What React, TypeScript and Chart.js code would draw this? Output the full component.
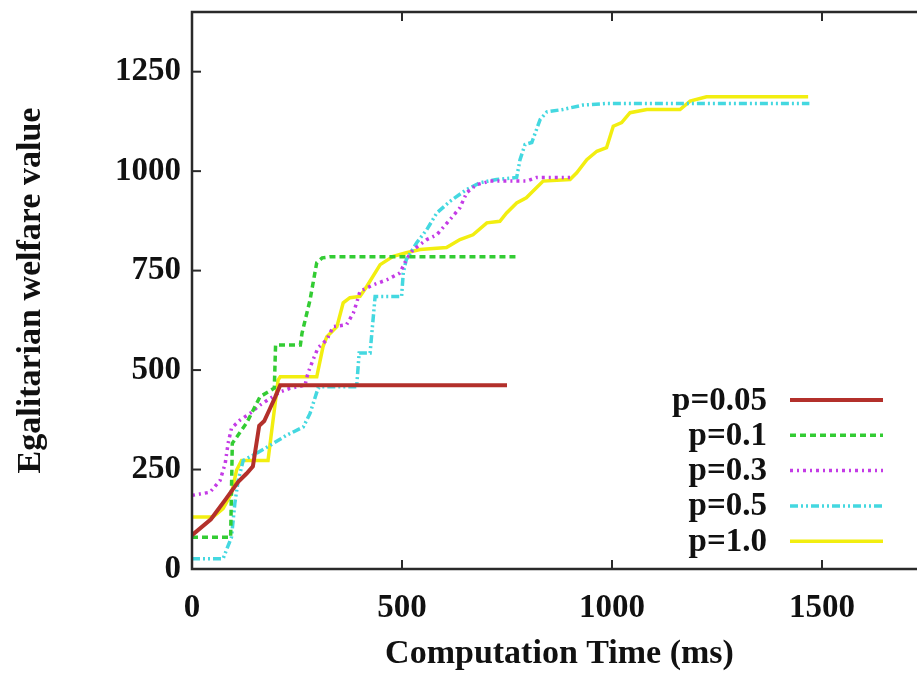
import React, { useEffect, useRef } from 'react';
import { Chart, registerables } from 'chart.js';

Chart.register(...registerables);

const FONT = "'Liberation Serif', 'Times New Roman', serif";
const FONT_SIZE = 33;
const TITLE_SIZE = 34;
const VIEW_W = 945;
const VIEW_H = 675;

const seriesLabels = ['p=0.05', 'p=0.1', 'p=0.3', 'p=0.5', 'p=1.0'];
const seriesColors = ['#b3302b', '#33cc33', '#c43be6', '#44d8e0', '#f2ee10'];
const seriesDashes: number[][] = [[], [6, 4], [3, 4, 2, 4], [8, 3, 2, 3, 2, 3], []];
const seriesWidths = [4, 3.5, 3.5, 3.5, 3.5];

const p005X = [0, 45, 80, 110, 130, 145, 160, 172, 186, 198, 210, 750];
const p005Y = [85, 125, 175, 219, 240, 258, 360, 372, 404, 432, 462, 462];

const p01X = [0, 92, 96, 130, 162, 186, 196, 199, 258, 262, 281, 297, 310, 330, 775];
const p01Y = [80, 80, 316, 367, 433, 448, 455, 563, 563, 593, 676, 770, 782, 785, 785];

const p03X = [0, 43, 67, 79, 86, 94, 114, 138, 162, 186, 210, 233, 269, 276, 288, 300, 321, 336, 368, 384, 392, 400, 431, 464, 495, 510, 526, 559, 583, 614, 638, 654, 678, 710, 796, 820, 900];
const p03Y = [185, 193, 223, 265, 316, 354, 374, 391, 412, 429, 445, 454, 462, 492, 525, 556, 576, 609, 614, 643, 669, 698, 714, 727, 744, 777, 802, 828, 840, 878, 908, 946, 966, 975, 975, 984, 984];

const p05X = [0, 74, 94, 102, 110, 122, 154, 186, 225, 265, 281, 300, 305, 392, 398, 424, 436, 499, 503, 510, 535, 559, 583, 614, 654, 686, 725, 773, 781, 793, 809, 829, 845, 883, 931, 987, 1470];
const p05Y = [26, 26, 80, 165, 223, 273, 291, 311, 336, 357, 391, 454, 458, 458, 543, 543, 685, 685, 744, 777, 820, 853, 895, 924, 954, 971, 979, 984, 1029, 1067, 1072, 1130, 1149, 1155, 1166, 1170, 1170];

const p10X = [0, 50, 74, 94, 106, 118, 181, 190, 205, 210, 297, 312, 321, 345, 360, 376, 400, 416, 448, 479, 510, 543, 606, 638, 669, 702, 733, 749, 773, 796, 820, 836, 900, 916, 940, 964, 987, 1003, 1023, 1043, 1083, 1162, 1186, 1225, 1467];
const p10Y = [131, 131, 152, 190, 248, 273, 273, 349, 475, 483, 483, 559, 584, 609, 669, 682, 685, 710, 765, 786, 795, 803, 808, 828, 840, 870, 874, 895, 920, 933, 958, 975, 979, 996, 1029, 1050, 1059, 1113, 1122, 1147, 1155, 1155, 1176, 1187, 1187];

const seriesX = [p005X, p01X, p03X, p05X, p10X];
const seriesY = [p005Y, p01Y, p03Y, p05Y, p10Y];

const xTickValues = [0, 500, 1000, 1500];
const yTickValues = [0, 250, 500, 750, 1000, 1250];
const xMax = 1750;
const yMax = 1400;

const framePlugin = {
  id: 'gnuFrame',
  afterDatasetsDraw(chart: any) {
    const { ctx, chartArea: a, scales } = chart;
    ctx.save();
    ctx.strokeStyle = '#2a2a2a';
    ctx.lineWidth = 2.5;
    ctx.strokeRect(a.left, a.top, a.right - a.left, a.bottom - a.top);
    ctx.lineWidth = 2;
    const L = 9;
    const seg = (x1: number, y1: number, x2: number, y2: number) => {
      ctx.beginPath();
      ctx.moveTo(x1, y1);
      ctx.lineTo(x2, y2);
      ctx.stroke();
    };
    scales.x.ticks.forEach((t: any) => {
      const px = scales.x.getPixelForValue(t.value);
      seg(px, a.bottom, px, a.bottom - L);
      seg(px, a.top, px, a.top + L);
    });
    scales.y.ticks.forEach((t: any) => {
      const py = scales.y.getPixelForValue(t.value);
      seg(a.left, py, a.left + L, py);
      seg(a.right, py, a.right - L, py);
    });
    ctx.restore();
  },
};

const keyPlugin = {
  id: 'gnuKey',
  afterDraw(chart: any) {
    const { ctx } = chart;
    const textRight = 767;
    const lineStart = 790;
    const lineEnd = 883;
    const firstRow = 400;
    const rowGap = 35.3;
    ctx.save();
    ctx.font = `bold ${FONT_SIZE}px ${FONT}`;
    ctx.textAlign = 'right';
    ctx.textBaseline = 'middle';
    chart.data.datasets.forEach((ds: any, i: number) => {
      const y = firstRow + i * rowGap;
      ctx.fillStyle = '#111';
      ctx.fillText(ds.label, textRight, y + 1);
      ctx.strokeStyle = ds.borderColor;
      ctx.lineWidth = ds.borderWidth;
      ctx.setLineDash(ds.borderDash || []);
      ctx.beginPath();
      ctx.moveTo(lineStart, y);
      ctx.lineTo(lineEnd, y);
      ctx.stroke();
      ctx.setLineDash([]);
    });
    ctx.restore();
  },
};

export default function App() {
  const ref = useRef<HTMLCanvasElement | null>(null);

  useEffect(() => {
    if (!ref.current) return;
    const datasets = seriesLabels.map((label, i) => ({
      label,
      data: seriesX[i].map((x, j) => ({ x, y: seriesY[i][j] })),
      borderColor: seriesColors[i],
      backgroundColor: seriesColors[i],
      borderWidth: seriesWidths[i],
      borderDash: seriesDashes[i],
      pointRadius: 0,
      tension: 0,
      fill: false,
    }));
    const chart = new Chart(ref.current, {
      type: 'line',
      data: { datasets },
      plugins: [framePlugin, keyPlugin],
      options: {
        responsive: false,
        animation: false,
        devicePixelRatio: 1,
        layout: { padding: { left: 0, right: VIEW_W - 927, top: 12, bottom: 0 } },
        plugins: { legend: { display: false }, tooltip: { enabled: false } },
        scales: {
          x: {
            type: 'linear',
            min: 0,
            max: xMax,
            grid: { display: false, drawTicks: false },
            border: { display: false },
            afterFit: (s: any) => {
              s.height = VIEW_H - 569;
              s.paddingLeft = 0;
              s.paddingRight = 0;
            },
            afterBuildTicks: (s: any) => { s.ticks = xTickValues.map((v) => ({ value: v })); },
            ticks: {
              padding: 20,
              color: '#111',
              font: { family: FONT, size: FONT_SIZE, weight: 'bold' },
              maxRotation: 0,
              callback: (v: any) => String(v),
            },
            title: {
              display: true,
              text: 'Computation Time (ms)',
              color: '#111',
              font: { family: FONT, size: TITLE_SIZE, weight: 'bold' },
              padding: { top: 0, bottom: 0 },
            },
          },
          y: {
            type: 'linear',
            min: 0,
            max: yMax,
            grid: { display: false, drawTicks: false },
            border: { display: false },
            afterFit: (s: any) => {
              s.width = 192;
              s.paddingTop = 0;
              s.paddingBottom = 0;
            },
            afterBuildTicks: (s: any) => { s.ticks = yTickValues.map((v) => ({ value: v })); },
            ticks: {
              padding: 11,
              color: '#111',
              font: { family: FONT, size: FONT_SIZE, weight: 'bold' },
              callback: (v: any) => String(v),
            },
            title: {
              display: true,
              text: 'Egalitarian welfare value',
              color: '#111',
              font: { family: FONT, size: TITLE_SIZE, weight: 'bold' },
              padding: { top: 11, bottom: 0 },
            },
          },
        },
      },
    });
    return () => chart.destroy();
  }, []);

  return (
    <div style={{ position: 'fixed', left: 0, top: 0, width: 917, height: VIEW_H, overflow: 'hidden', background: '#fff' }}>
      <canvas ref={ref} width={VIEW_W} height={VIEW_H} style={{ width: VIEW_W, height: VIEW_H, display: 'block' }} />
    </div>
  );
}
